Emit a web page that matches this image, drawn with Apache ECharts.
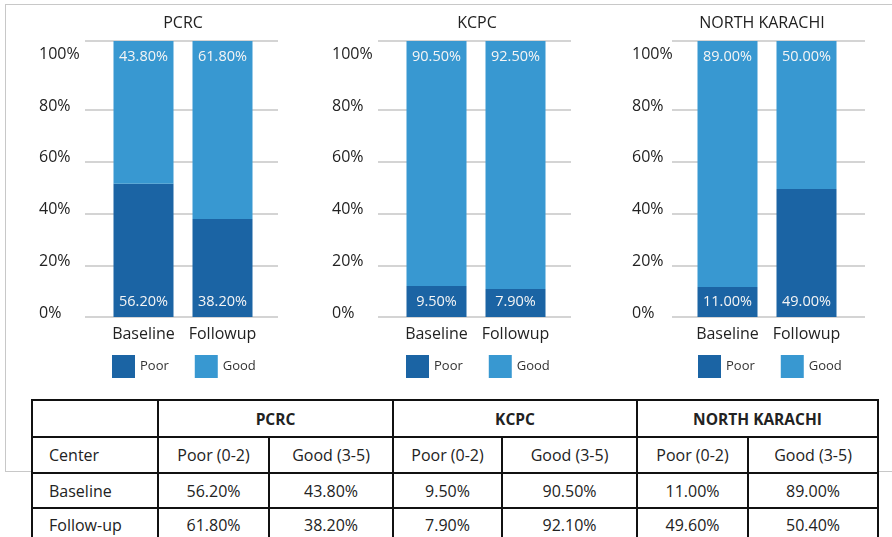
<!DOCTYPE html>
<html>
<head>
<meta charset="utf-8">
<script src="https://cdn.jsdelivr.net/npm/echarts@6/dist/echarts.min.js"></script>
<style>
  html, body { margin: 0; padding: 0; background: #fff; }
  #wrap { position: relative; width: 892px; height: 537px; overflow: hidden; font-family: "Open Sans", sans-serif; }
  #frame { position: absolute; left: 5px; top: 4px; width: 920px; height: 466px; border: 1.5px solid #c8c8c8; box-sizing: content-box; }
  #chart { position: absolute; left: 0; top: 0; width: 892px; height: 537px; }
  #tbl { position: absolute; left: 31px; top: 399px; border-collapse: collapse; background: #fff; table-layout: fixed; color: #222; font-size: 16px; }
  #tbl td { border: 2px solid #111; text-align: center; padding: 0; white-space: nowrap; }
  #tbl td.first { text-align: left; padding-left: 16px; }
  #tbl tr.h td { font-weight: bold; font-size: 15.5px; }
</style>
</head>
<body>
<div id="wrap">
  <div id="frame"></div>
  <div id="chart"></div>
  <table id="tbl"></table>
</div>
<script>
// ---------- data ----------
const categories = ['Baseline', 'Followup'];
const centers = ['PCRC', 'KCPC', 'NORTH KARACHI'];
const seriesNames = ['Poor', 'Good'];

// bar segment heights (axis percent)
const poorPCRC = [51.5, 37.9];
const goodPCRC = [55.2, 68.8];
const poorKCPC = [12.0, 10.8];
const goodKCPC = [94.7, 95.9];
const poorNK = [11.6, 49.5];
const goodNK = [95.1, 57.2];

// printed labels on the bars
const poorLabelsPCRC = ['56.20%', '38.20%'];
const goodLabelsPCRC = ['43.80%', '61.80%'];
const poorLabelsKCPC = ['9.50%', '7.90%'];
const goodLabelsKCPC = ['90.50%', '92.50%'];
const poorLabelsNK = ['11.00%', '49.00%'];
const goodLabelsNK = ['89.00%', '50.00%'];

const yTickValues = [0, 20, 40, 60, 80, 100];
const yMaxValue = 106.7;

// table
const tableSubHeaders = ['Center', 'Poor (0-2)', 'Good (3-5)', 'Poor (0-2)', 'Good (3-5)', 'Poor (0-2)', 'Good (3-5)'];
const tableBaselineLabel = 'Baseline';
const tableBaseline = ['56.20%', '43.80%', '9.50%', '90.50%', '11.00%', '89.00%'];
const tableFollowLabel = 'Follow-up';
const tableFollow = ['61.80%', '38.20%', '7.90%', '92.10%', '49.60%', '50.40%'];

// ---------- layout ----------
const panels = [
  { poor: poorPCRC, good: goodPCRC, pl: poorLabelsPCRC, gl: goodLabelsPCRC,
    gridL: 85, gridW: 193, barL: 104, barW: 158, labelX: 39, titleX: 183, legendL: 112 },
  { poor: poorKCPC, good: goodKCPC, pl: poorLabelsKCPC, gl: goodLabelsKCPC,
    gridL: 378, gridW: 193, barL: 397, barW: 158, labelX: 332, titleX: 477, legendL: 406 },
  { poor: poorNK, good: goodNK, pl: poorLabelsNK, gl: goodLabelsNK,
    gridL: 672, gridW: 193, barL: 688, barW: 158, labelX: 632, titleX: 762, legendL: 698 }
];
const GRID_TOP = 41, GRID_H = 276;
const DARK = '#1b64a4', LIGHT = '#3898d1';
const FONT = '"Open Sans", sans-serif';

const option = {
  animation: false,
  textStyle: { fontFamily: FONT },
  color: [DARK, LIGHT],
  title: [], grid: [], xAxis: [], yAxis: [], series: [], legend: []
};

const gridColors = yTickValues.map(v => v === 100 ? 'rgba(0,0,0,0)' : '#c6c6c6');
gridColors.push('#c6c6c6');

panels.forEach((p, i) => {
  option.title.push({
    text: centers[i], left: p.titleX, top: 15, textAlign: 'center', padding: 0,
    textStyle: { fontFamily: FONT, fontSize: 16, fontWeight: 'normal', color: '#222' }
  });
  // grid for gridlines + y labels
  const ga = option.grid.length;
  option.grid.push({ left: p.gridL, width: p.gridW, top: GRID_TOP, height: GRID_H });
  option.xAxis.push({ gridIndex: ga, type: 'value', show: false });
  option.yAxis.push({
    gridIndex: ga, type: 'value', min: 0, max: yMaxValue, interval: 20,
    axisLine: { show: false }, axisTick: { show: false },
    splitLine: { show: true, lineStyle: { color: gridColors, width: 1.5 } },
    axisLabel: {
      align: 'left', verticalAlign: 'bottom', lineHeight: 8,
      margin: p.gridL - p.labelX, fontSize: 16, color: '#222', fontFamily: FONT,
      formatter: v => (yTickValues.indexOf(v) >= 0 ? v + '%' : '')
    }
  });
  // grid for bars
  const gb = option.grid.length;
  option.grid.push({ left: p.barL, width: p.barW, top: GRID_TOP, height: GRID_H });
  option.xAxis.push({
    gridIndex: gb, type: 'category', data: categories,
    axisLine: { show: false }, axisTick: { show: false },
    axisLabel: { interval: 0, fontSize: 16, color: '#222', margin: 9, fontFamily: FONT }
  });
  option.yAxis.push({ gridIndex: gb, type: 'value', min: 0, max: yMaxValue, show: false, splitLine: { show: false } });
  const stack = 's' + i;
  option.series.push({
    name: seriesNames[0], type: 'bar', stack, xAxisIndex: gb, yAxisIndex: gb,
    data: p.poor, barWidth: 60, itemStyle: { color: DARK },
    label: { show: true, position: 'insideBottom', distance: 8, color: '#f5f5f5', fontSize: 14.5, fontFamily: FONT,
      formatter: prm => p.pl[prm.dataIndex] }
  });
  option.series.push({
    name: seriesNames[1], type: 'bar', stack, xAxisIndex: gb, yAxisIndex: gb,
    data: p.good, barWidth: 60, itemStyle: { color: LIGHT },
    label: { show: true, position: 'insideTop', distance: 8, color: '#f5f5f5', fontSize: 14.5, fontFamily: FONT,
      formatter: prm => p.gl[prm.dataIndex] }
  });
  option.legend.push({
    data: seriesNames, left: p.legendL, top: 355, orient: 'horizontal',
    itemWidth: 23, itemHeight: 23, itemGap: 26, icon: 'rect', padding: 0,
    selectedMode: false,
    textStyle: { fontSize: 13, color: '#333', fontFamily: FONT }
  });
});

const chart = echarts.init(document.getElementById('chart'), null, { renderer: 'canvas' });
chart.setOption(option);

// ---------- table ----------
const colWidths = [126, 111, 124, 109, 135, 111, 130];
const rowHeights = [37, 36, 35, 33];
const tbl = document.getElementById('tbl');
let html = '<colgroup>' + colWidths.map(w => '<col style="width:' + w + 'px">').join('') + '</colgroup>';
html += '<tr class="h" style="height:' + rowHeights[0] + 'px"><td></td>' +
  centers.map(c => '<td colspan="2">' + c + '</td>').join('') + '</tr>';
html += '<tr style="height:' + rowHeights[1] + 'px">' +
  tableSubHeaders.map((t, k) => '<td' + (k === 0 ? ' class="first"' : '') + '>' + t + '</td>').join('') + '</tr>';
html += '<tr style="height:' + rowHeights[2] + 'px"><td class="first">' + tableBaselineLabel + '</td>' +
  tableBaseline.map(t => '<td>' + t + '</td>').join('') + '</tr>';
html += '<tr style="height:' + rowHeights[3] + 'px"><td class="first">' + tableFollowLabel + '</td>' +
  tableFollow.map(t => '<td>' + t + '</td>').join('') + '</tr>';
tbl.innerHTML = html;
tbl.style.width = colWidths.reduce((a, b) => a + b, 0) + 'px';
</script>
</body>
</html>
